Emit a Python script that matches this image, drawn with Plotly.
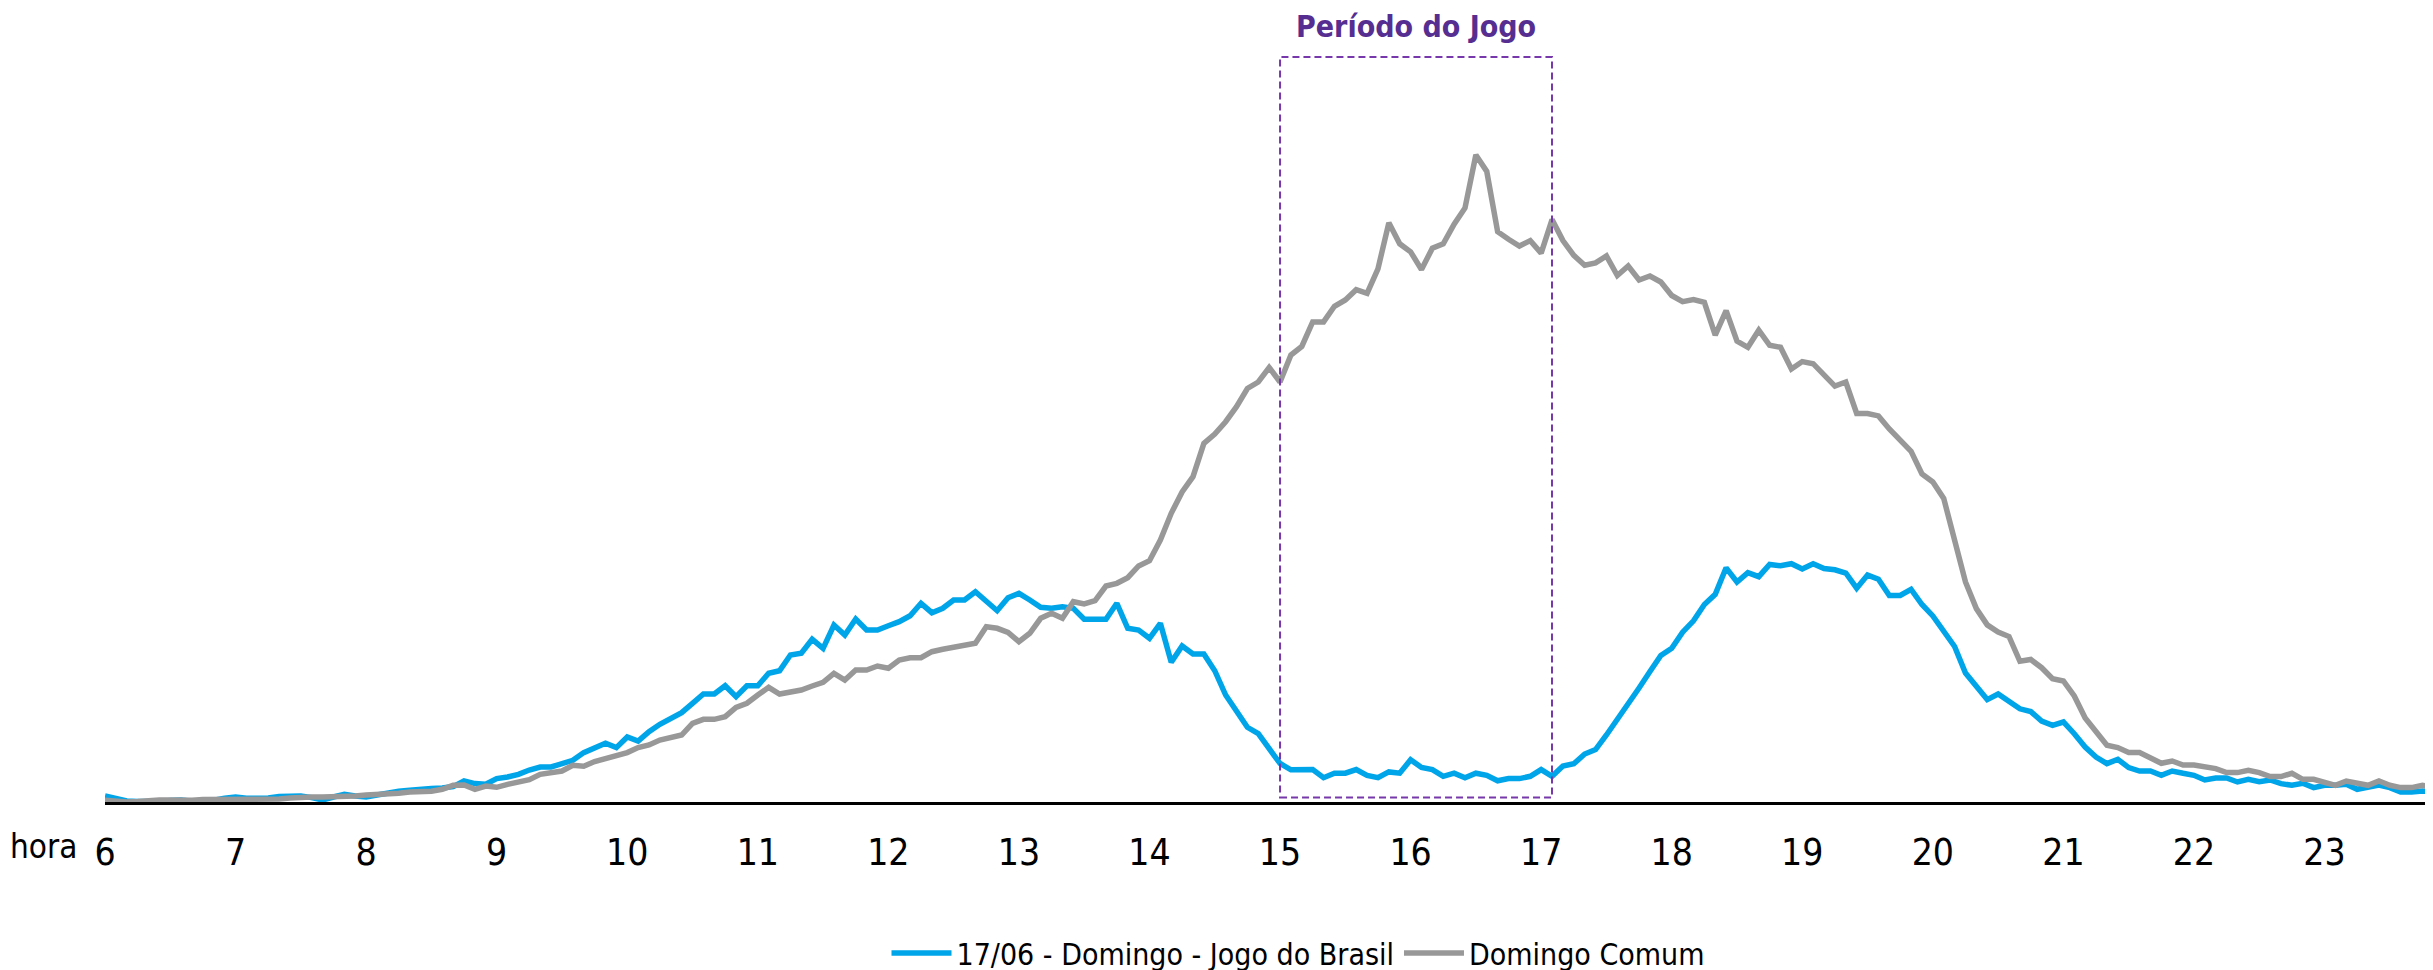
import plotly.graph_objects as go

# 5-minute samples starting at 06:00 (index 0) up to 23:50
start_minutes = 6 * 60
step_minutes = 5

jogo_brasil = [
    6, 3.4, 1, 0.4, 0, 0.4, 1.4, 2, 0.7, 0.7, 1.7, 3.7,
    5, 3.7, 3.4, 4, 5.4, 6, 6, 4.4, 2, 5, 7.7, 6,
    5, 7, 9.4, 10.7, 11.7, 12, 13.4, 14, 15.4, 21, 18.4, 17.7,
    23.4, 25, 27.7, 32, 35, 35, 38.4, 41.7, 49.4, 54.4, 58.7, 54.4,
    65, 61, 70.4, 77.7, 83.7, 89.4, 98.7, 108, 108, 116.3, 105.3, 116.3,
    116.3, 128.7, 131.3, 147, 148.7, 162.7, 153.7, 177, 167, 183, 172, 172,
    176.3, 180.3, 186.3, 198.7, 189.3, 193.7, 202, 202, 210.3, 201.3, 191.3, 204.3,
    208.7, 202, 194.7, 193.7, 195.3, 193.7, 182.7, 182.7, 182.7, 198.7, 173.7, 172,
    163.7, 178.7, 139.7, 156, 148, 148, 131.3, 107, 90.3, 74.7, 68.4, 54,
    38.5, 32.2, 32.4, 32.4, 24.3, 28.8, 28.8, 32.4, 26.6, 24.3, 30.1, 28.8,
    42.2, 34.6, 32.4, 25.7, 28.8, 24.3, 28.8, 26.6, 21.2, 23.4, 23.4, 25.7,
    32.4, 25.7, 35.9, 38.2, 48, 52.4, 67, 82, 97, 114, 130.4, 146.5,
    153.8, 169.8, 181.2, 197.5, 207.7, 234.2, 220, 229.3, 225.3, 237.5, 236.3, 238.3,
    233, 238.3, 233.4, 232.2, 229, 213.8, 226.9, 222.8, 206.5, 206.5, 212.6, 197.5,
    186.1, 171, 155.5, 128.9, 115.1, 102.4, 108, 100.7, 93.2, 90.4, 81, 76.7,
    80, 68.3, 55, 45, 38.4, 42.7, 34.4, 31, 31, 26.7, 31, 28.7,
    26.7, 22, 24, 24, 20, 22.7, 20.4, 22, 18.4, 16.7, 18.7, 14.4,
    16.7, 16.7, 17.7, 12.7, 14.4, 17, 14.4, 10, 10, 11, 10,
]

domingo_comum = [
    1.7, 0.7, 0, 0.4, 1.4, 2, 2, 1.4, 1.7, 2.4, 2.4, 2.7,
    2.7, 2.7, 2.7, 2.7, 3, 4, 5, 5, 5, 5, 5.4, 6,
    7, 7.4, 7.7, 8.7, 10, 10.4, 10.7, 12.7, 16.7, 17, 12.7, 16,
    14.7, 17.7, 20, 22.4, 27.7, 29.4, 31, 36.7, 35.7, 40.4, 43, 46.7,
    49.4, 54.4, 57, 62, 65, 67, 78.7, 82.7, 82.7, 85.3, 94.7, 98.7,
    107, 114.7, 108, 109.7, 112, 116, 119.7, 128.7, 122, 132, 132, 136,
    133.7, 142, 144.3, 144.3, 150.3, 152.7, 154.3, 156.3, 158.7, 175.3, 173.7, 169.7,
    160.3, 168.7, 183.7, 188.7, 183.7, 200.3, 198, 201.3, 216, 218.7, 224.3, 236,
    241.3, 262, 288.7, 310, 325.3, 358.7, 368, 380.3, 395.3, 413.5, 420, 434.5,
    420, 447, 455.6, 480.1, 480.1, 495.7, 502, 512.3, 508.7, 533.2, 579.2, 558.2,
    550.2, 532.4, 553.8, 558.2, 577.9, 594, 647.1, 630.6, 570.3, 562.7, 556, 561.4,
    548.9, 582.4, 561.4, 546.6, 536.8, 539.1, 546, 526.5, 536, 522, 526, 520,
    506.5, 500.4, 502.4, 499.6, 466.9, 491.4, 460.8, 454.7, 471.8, 456.7, 454.7, 433,
    440.4, 438.3, 426.9, 415.9, 420, 388.5, 388.5, 386.1, 373, 362, 350.6, 328.1,
    320, 303.6, 263, 220, 193.4, 177.1, 170, 165.5, 140.7, 142.5, 134.3, 123.3,
    121, 106, 84, 70, 56.7, 54.4, 49.4, 49.4, 43.7, 38.7, 41, 37,
    37, 35, 33.4, 29.4, 29.4, 31.7, 29.4, 25.4, 25.4, 28.7, 22.7, 22.7,
    20, 16.7, 21, 18.7, 16.7, 21, 16.7, 14.4, 14.4, 16.7, 14.4,
]

hour_ticks = list(range(6, 24))
tick_labels = [str(h) for h in hour_ticks]

jogo_inicio, jogo_fim = 15.0, 17.083

hours = [(start_minutes + i * step_minutes) / 60 for i in range(len(jogo_brasil))]

FONT = "DejaVu Sans Condensed, Liberation Sans Narrow, Arial Narrow, Liberation Sans, Arial, sans-serif"

# page body has an 8px margin, so the figure is laid out 8px up/left
OFF = 8
W, H = 2433, 970
L, R, B = 105 - OFF, OFF, 168 + OFF
plot_w, plot_h = W - L - R, H - B


def py(screen_y):
    # screen pixel row -> paper y
    return (H - B - (screen_y - OFF)) / plot_h


def px(screen_x):
    return (screen_x - OFF - L) / plot_w


fig = go.Figure()

fig.add_trace(go.Scatter(x=hours, y=jogo_brasil,
                         mode='lines',
                         name='17/06 - Domingo - Jogo do Brasil',
                         line=dict(color='rgb(0, 164, 233)', width=5.5)))

fig.add_trace(go.Scatter(x=hours, y=domingo_comum,
                         mode='lines',
                         name='Domingo Comum',
                         line=dict(color='rgb(152, 152, 152)', width=5.5)))

# game period box
fig.add_shape(type='rect', xref='x', yref='y',
              x0=jogo_inicio, x1=jogo_fim, y0=4.5, y1=745,
              line=dict(color='rgb(118, 56, 170)', width=2, dash='7px,4px'))

fig.add_annotation(x=(jogo_inicio + jogo_fim) / 2, y=py(27),
                   xref='x', yref='paper',
                   text='<b>Período do Jogo</b>',
                   showarrow=False,
                   yanchor='middle',
                   font=dict(family=FONT, size=30, color='rgb(86, 46, 145)'))

fig.add_annotation(x=px(43), y=py(847),
                   xref='paper', yref='paper',
                   text='hora', showarrow=False,
                   xanchor='center', yanchor='middle',
                   font=dict(family=FONT, size=33, color='black'))

fig.update_layout(width=W,
                  height=H,
                  autosize=False,
                  margin={"r": R, "t": 0, "l": L, "b": B, "autoexpand": False},
                  plot_bgcolor='white',
                  paper_bgcolor='white',
                  font=dict(family=FONT, color='black'),
                  showlegend=True,
                  legend=dict(orientation='h',
                              x=px(1298), xanchor='center',
                              y=py(953), yanchor='middle',
                              font=dict(family=FONT, size=30, color='black'),
                              itemwidth=60),
                  xaxis=dict(range=[6, 6 + plot_w / 130.56],
                             showline=True,
                             linecolor='black',
                             linewidth=2.5,
                             showgrid=False,
                             zeroline=False,
                             tickmode='array',
                             tickvals=hour_ticks,
                             ticktext=tick_labels,
                             ticks='outside',
                             ticklen=16,
                             tickcolor='rgba(0,0,0,0)',
                             tickfont=dict(family=FONT, size=37, color='black')),
                  yaxis=dict(range=[0, plot_h],
                             showline=False,
                             showgrid=False,
                             zeroline=False,
                             showticklabels=False))

fig.write_html("out.html")
